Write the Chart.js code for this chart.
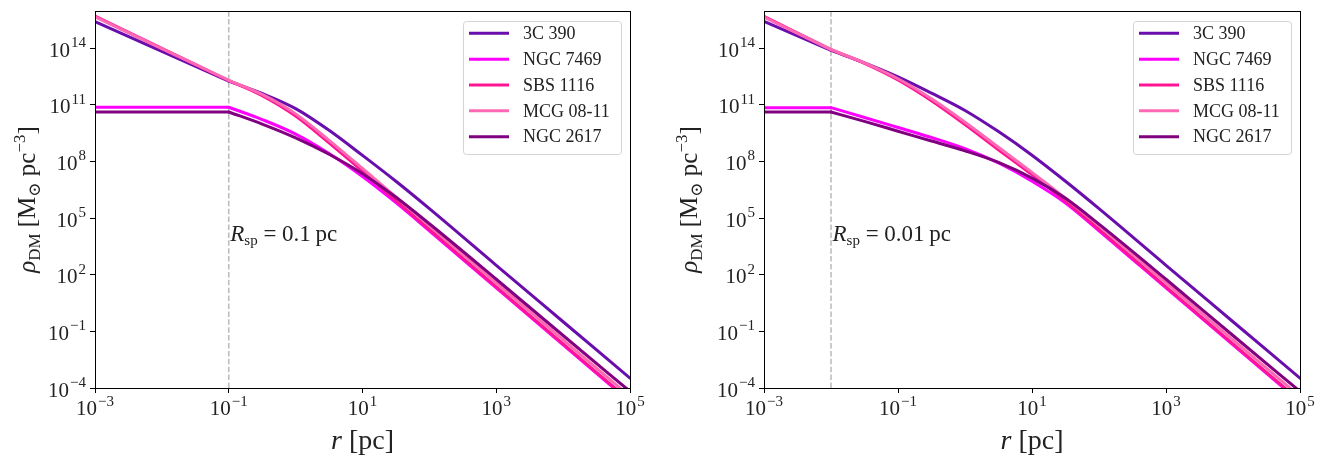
<!DOCTYPE html>
<html>
<head>
<meta charset="utf-8">
<script src="https://cdn.jsdelivr.net/npm/chart.js@4.4.0/dist/chart.umd.min.js"></script>
<style>
html, body { margin: 0; padding: 0; background: #fff; }
#wrap { position: relative; width: 1325px; height: 458px; }
.panel { position: absolute; top: 0; height: 458px; }
</style>
</head>
<body>
<div id="wrap">
  <div class="panel" style="left:0;width:662px"><canvas id="c1" width="662" height="458"></canvas></div>
  <div class="panel" style="left:662px;width:663px"><canvas id="c2" width="663" height="458"></canvas></div>
</div>
<script>
const names = ['3C 390', 'NGC 7469', 'SBS 1116', 'MCG 08-11', 'NGC 2617'];
const colors = ['#6a0dad', '#ff00ff', '#ff1493', '#ff69b4', '#800080'];

// axis limits and tick exponents
const xMin = 1e-3, xMax = 1e5;
const yMin = 1e-4, yMax = 9.3e15;
const xTickExp = [-3, -1, 1, 3, 5];
const yTickExp = [-4, -1, 2, 5, 8, 11, 14];

// left panel, R_sp = 0.1 pc   (rho given as log10 of M_sun pc^-3)
const rspLeft = 0.1;
const rLeft = [1e-3, 1e-2, 0.1, 0.316, 1, 3.16, 10, 31.6, 100, 1e3, 1e4, 1e5];
const logRhoL_3C390 = [15.40, 13.83, 12.26, 11.60, 10.80, 9.65, 8.32, 6.95, 5.50, 2.50, -0.49, -3.48];
const logRhoL_NGC7469 = [10.87, 10.87, 10.87, 10.22, 9.45, 8.42, 7.20, 5.82, 4.33, 1.30, -1.72, -4.73];
const logRhoL_SBS1116 = [15.70, 13.99, 12.28, 11.48, 10.40, 8.98, 7.48, 5.93, 4.40, 1.36, -1.66, -4.68];
const logRhoL_MCG0811 = [15.66, 13.98, 12.30, 11.55, 10.52, 9.12, 7.63, 6.12, 4.60, 1.57, -1.45, -4.45];
const logRhoL_NGC2617 = [10.62, 10.62, 10.62, 9.98, 9.25, 8.38, 7.35, 6.10, 4.70, 1.76, -1.22, -4.18];

// right panel, R_sp = 0.01 pc
const rspRight = 0.01;
const rRight = [1e-3, 1e-2, 0.0316, 0.1, 0.316, 1, 3.16, 10, 31.6, 100, 1e3, 1e4, 1e5];
const logRhoR_3C390 = [15.42, 13.88, 13.22, 12.48, 11.62, 10.70, 9.58, 8.33, 6.95, 5.50, 2.50, -0.49, -3.48];
const logRhoR_NGC7469 = [10.85, 10.85, 10.33, 9.80, 9.27, 8.68, 7.92, 6.95, 5.80, 4.33, 1.30, -1.72, -4.73];
const logRhoR_SBS1116 = [15.68, 13.92, 13.20, 12.32, 11.22, 9.96, 8.62, 7.30, 5.90, 4.40, 1.36, -1.66, -4.68];
const logRhoR_MCG0811 = [15.64, 13.92, 13.22, 12.38, 11.32, 10.08, 8.75, 7.42, 6.05, 4.60, 1.57, -1.45, -4.45];
const logRhoR_NGC2617 = [10.62, 10.62, 10.12, 9.60, 9.08, 8.56, 7.95, 7.12, 6.05, 4.68, 1.76, -1.22, -4.18];

const SERIF = '"Liberation Serif", "DejaVu Serif", serif';

function drawPow(ctx, e, x, yBase, yExp, align) {
    const base = '10';
    const sup = e < 0 ? '\u2212' + (-e) : String(e);
    ctx.font = '21px ' + SERIF;
    const wb = ctx.measureText(base).width;
    ctx.font = '15px ' + SERIF;
    const ws = ctx.measureText(sup).width;
    const w = wb + 1 + ws;
    const x0 = align === 'right' ? x - w : x - w / 2;
    ctx.textAlign = 'left';
    ctx.textBaseline = 'alphabetic';
    ctx.font = '21px ' + SERIF;
    ctx.fillText(base, x0, yBase);
    ctx.font = '15px ' + SERIF;
    ctx.fillText(sup, x0 + wb + 1, yExp);
}

// parts: [text, font, dy]
function drawRich(ctx, parts, x, y, align) {
    let w = 0;
    const widths = parts.map(p => { ctx.font = p[1]; const m = ctx.measureText(p[0]).width; w += m; return m; });
    let cx = align === 'center' ? x - w / 2 : x;
    ctx.textAlign = 'left';
    ctx.textBaseline = 'alphabetic';
    parts.forEach((p, i) => {
        ctx.font = p[1];
        ctx.fillText(p[0], cx, y + p[2]);
        cx += widths[i];
    });
}

const decor = {
    id: 'decor',
    afterDraw(chart, args, opts) {
        const ctx = chart.ctx;
        const a = chart.chartArea;
        const xs = chart.scales.x, ys = chart.scales.y;
        ctx.save();

        // frame
        ctx.strokeStyle = '#000';
        ctx.lineWidth = 1;
        ctx.strokeRect(a.left + 0.5, a.top + 0.5, a.right - a.left, a.bottom - a.top);

        // tick labels
        ctx.fillStyle = '#222';
        yTickExp.forEach(e => {
            const y = ys.getPixelForValue(Math.pow(10, e));
            drawPow(ctx, e, a.left - 9, y + 8.5, y - 1, 'right');
        });
        xTickExp.forEach(e => {
            const x = xs.getPixelForValue(Math.pow(10, e));
            drawPow(ctx, e, x, a.bottom + 27, a.bottom + 18, 'center');
        });

        // axis titles
        drawRich(ctx, [
            ['r', 'italic 28px ' + SERIF, 0],
            [' [pc]', '28px ' + SERIF, 0]
        ], (a.left + a.right) / 2, 449, 'center');

        ctx.save();
        ctx.translate(35, (a.top + a.bottom) / 2);
        ctx.rotate(-Math.PI / 2);
        drawRich(ctx, [
            ['\u03c1', 'italic 25px ' + SERIF, 0],
            ['DM', '17px ' + SERIF, 5],
            [' [M', '25px ' + SERIF, 0],
            ['\u2299', '17px ' + SERIF, 5],
            [' pc', '25px ' + SERIF, 0],
            ['\u22123', '17px ' + SERIF, -10],
            [']', '25px ' + SERIF, 0]
        ], 0, 0, 'center');
        ctx.restore();

        // R_sp annotation
        const ax = xs.getPixelForValue(opts.rsp) + 1.5;
        const ay = ys.getPixelForValue(opts.annotY);
        drawRich(ctx, [
            ['R', 'italic 23px ' + SERIF, 0],
            ['sp', '15px ' + SERIF, 4],
            [' = ' + opts.rspText + '\u2009pc', '23px ' + SERIF, 0]
        ], ax, ay, 'left');

        // legend
        const bw = 158, bh = 133;
        const bx = a.right - 9 - bw, by = a.top + 10;
        ctx.beginPath();
        ctx.roundRect(bx + 0.5, by + 0.5, bw, bh, 3);
        ctx.fillStyle = 'rgba(255,255,255,0.8)';
        ctx.fill();
        ctx.strokeStyle = '#d4d4d4';
        ctx.lineWidth = 1;
        ctx.stroke();
        names.forEach((n, i) => {
            const ry = by + 12.3 + i * 25.85;
            ctx.strokeStyle = colors[i];
            ctx.lineWidth = 3;
            ctx.beginPath();
            ctx.moveTo(bx + 6, ry);
            ctx.lineTo(bx + 46, ry);
            ctx.stroke();
            ctx.fillStyle = '#222';
            ctx.font = '18px ' + SERIF;
            ctx.textAlign = 'left';
            ctx.textBaseline = 'middle';
            ctx.fillText(n, bx + 60, ry + 1);
        });
        ctx.restore();
    }
};

function makeChart(id, r, series, rsp, rspText, yWidth, padRight) {
    const datasets = [];
    series.forEach((logs, i) => {
        const pts = r.map((x, k) => ({ x: x, y: Math.pow(10, logs[k]) }));
        // inner power law (r <= R_sp) drawn straight, outer part smoothed; split keeps the kink at R_sp sharp
        datasets.push({
            label: names[i],
            data: pts.filter(p => p.x <= rsp),
            borderColor: colors[i],
            borderWidth: 3,
            borderCapStyle: 'round',
            pointRadius: 0,
            fill: false,
            tension: 0,
            order: 4 - i
        });
        datasets.push({
            label: names[i],
            data: pts.filter(p => p.x >= rsp),
            borderColor: colors[i],
            borderWidth: 3,
            borderCapStyle: 'round',
            pointRadius: 0,
            fill: false,
            cubicInterpolationMode: 'monotone',
            order: 4 - i
        });
    });
    datasets.push({
        label: 'R_sp',
        data: [{ x: rsp, y: yMin }, { x: rsp, y: yMax }],
        borderColor: '#bdbdbd',
        borderWidth: 1.6,
        borderDash: [5.5, 2.4],
        pointRadius: 0,
        fill: false,
        order: 10
    });

    return new Chart(document.getElementById(id), {
        type: 'line',
        data: { datasets: datasets },
        options: {
            responsive: false,
            animation: false,
            devicePixelRatio: 1,
            layout: { padding: { top: 11, right: padRight, left: 0, bottom: 0 } },
            plugins: {
                legend: { display: false },
                tooltip: { enabled: false },
                decor: { rsp: rsp, rspText: rspText, annotY: 6e3 }
            },
            scales: {
                x: {
                    type: 'logarithmic',
                    min: xMin, max: xMax,
                    afterBuildTicks: s => { s.ticks = xTickExp.map(e => ({ value: Math.pow(10, e) })); },
                    afterFit: s => { s.height = 70; },
                    ticks: { display: false },
                    grid: { drawOnChartArea: false, drawTicks: true, tickLength: 5, color: '#000', lineWidth: 1 },
                    border: { display: true, color: '#000', width: 1 }
                },
                y: {
                    type: 'logarithmic',
                    min: yMin, max: yMax,
                    afterBuildTicks: s => { s.ticks = yTickExp.map(e => ({ value: Math.pow(10, e) })); },
                    afterFit: s => { s.width = yWidth; },
                    ticks: { display: false },
                    grid: { drawOnChartArea: false, drawTicks: true, tickLength: 5, color: '#000', lineWidth: 1 },
                    border: { display: true, color: '#000', width: 1 }
                }
            }
        },
        plugins: [decor]
    });
}

makeChart('c1', rLeft,
    [logRhoL_3C390, logRhoL_NGC7469, logRhoL_SBS1116, logRhoL_MCG0811, logRhoL_NGC2617],
    rspLeft, '0.1', 95, 32);
makeChart('c2', rRight,
    [logRhoR_3C390, logRhoR_NGC7469, logRhoR_SBS1116, logRhoR_MCG0811, logRhoR_NGC2617],
    rspRight, '0.01', 102, 25);
</script>
</body>
</html>
